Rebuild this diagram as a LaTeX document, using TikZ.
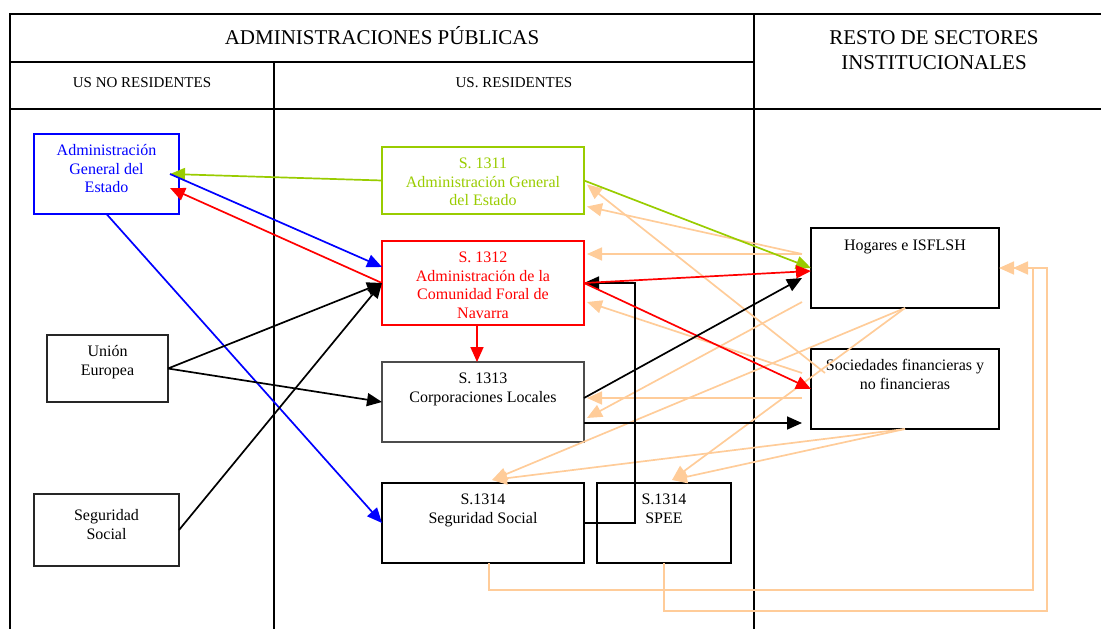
\documentclass[tikz,border=0pt]{standalone}
\usepackage{fontspec}
\setmainfont{Liberation Serif}
\usetikzlibrary{arrows.meta}
\tikzset{>={Triangle[length=15pt,width=13pt]}}
\definecolor{verde}{RGB}{153,204,0}
\definecolor{melocoton}{RGB}{255,204,153}
\tikzset{sector/.style = {shape=rectangle, draw, line width=1.8pt,
inner sep=0pt, outer sep=0pt, font=\fontsize{16}{18.5}\selectfont}}
\tikzset{flujo/.style = {line width=1.7pt, ->}}
\tikzset{trazo/.style = {line width=1.8pt}}
\newcommand{\caja}[4]{\parbox[c][#2][t]{#1}{\centering\rule{0pt}{#3}#4}}

\begin{document}
\begin{tikzpicture}[x=1pt,y=-1pt]
                \useasboundingbox (0,0) rectangle (1101,629);

                % cuadro
                \draw[trazo] (10,629) -- (10,14) -- (1101,14);
                \draw[trazo] (10,62) -- (754,62);
                \draw[trazo] (10,109) -- (1101,109);
                \draw[trazo] (274,62) -- (274,629);
                \draw[trazo] (754,14) -- (754,629);

                \node[anchor=base, font=\fontsize{21}{25}\selectfont] (tadm) at (382,44) {ADMINISTRACIONES PÚBLICAS};
                \node[anchor=north, align=center, inner sep=0pt, font=\fontsize{21}{25}\selectfont] (tresto) at (934,30) {RESTO DE SECTORES\\INSTITUCIONALES};
                \node[anchor=base, font=\fontsize{15}{18}\selectfont] (tnores) at (142,87) {US NO RESIDENTES};
                \node[anchor=base, font=\fontsize{15}{18}\selectfont] (tres) at (514,87) {US. RESIDENTES};

                % sectores
                \node[sector, draw=blue, text=blue] (age) at (106.5,174) {\caja{145pt}{80pt}{21.5pt}{Administración\\General del\\Estado}};
                \node[sector, draw=black!85] (ue) at (107.5,368.5) {\caja{121pt}{67pt}{21.5pt}{Unión\\Europea}};
                \node[sector, draw=black!85] (ssext) at (106.5,530) {\caja{145pt}{72pt}{26.5pt}{Seguridad\\Social}};

                \node[sector, draw=verde, text=verde] (s1311) at (483,180.5) {\caja{202pt}{67pt}{21.5pt}{S. 1311\\Administración General\\del Estado}};
                \node[sector, draw=red, text=red] (s1312) at (483,283) {\caja{202pt}{84pt}{21.5pt}{S. 1312\\Administración de la\\Comunidad Foral de\\Navarra}};
                \node[sector, draw=black!70] (s1313) at (483,402) {\caja{202pt}{80pt}{21.5pt}{S. 1313\\Corporaciones Locales}};
                \node[sector] (s1314) at (483,523) {\caja{202pt}{80pt}{21.5pt}{S.1314\\Seguridad Social}};
                \node[sector] (spee) at (664,523) {\caja{134pt}{80pt}{21.5pt}{S.1314\\SPEE}};

                \node[sector] (hog) at (905,268) {\caja{188pt}{80pt}{22.5pt}{Hogares e ISFLSH}};
                \node[sector] (soc) at (905,389) {\caja{188pt}{80pt}{21.5pt}{Sociedades financieras y\\no financieras}};

                \coordinate (r1) at (1033,590);
                \coordinate (r2) at (1047,611);

                % flujos del resto de sectores
                \draw[flujo, melocoton] ([xshift=-9pt,yshift=14pt]hog.west) to ([xshift=3pt,yshift=-26pt]s1311.east);
                \draw[flujo, melocoton] ([xshift=-9pt,yshift=14pt]hog.west) to ([xshift=3pt,yshift=29pt]s1312.east);
                \draw[flujo, melocoton] ([xshift=14pt,yshift=-24pt]soc.north west) to ([xshift=3pt,yshift=-4pt]s1311.east);
                \draw[flujo, melocoton] ([xshift=-9pt,yshift=16pt]soc.west) to ([xshift=3pt,yshift=-19pt]s1312.east);
                \draw[flujo, melocoton] ([xshift=-9pt,yshift=-9pt]soc.west) to ([xshift=3pt,yshift=4pt]s1313.east);
                \draw[flujo, melocoton] ([xshift=-9pt,yshift=-34pt]hog.west) to ([xshift=3pt,yshift=-16pt]s1313.east);
                \draw[flujo, melocoton] (hog.south) to ([xshift=9pt,yshift=3pt]s1314.north);
                \draw[flujo, melocoton] (hog.south) to ([xshift=8pt,yshift=3pt]spee.north);
                \draw[flujo, melocoton] (soc.south) to ([xshift=9pt,yshift=3pt]s1314.north);
                \draw[flujo, melocoton] (soc.south) to ([xshift=8pt,yshift=3pt]spee.north);
                \draw[flujo, melocoton] ([xshift=6pt]s1314.south) |- (r1) |- (hog.east);
                \draw[flujo, melocoton] (spee.south) |- (r2) |- ([xshift=14pt]hog.east);

                % flujos de las administraciones
                \draw[flujo, verde] (s1311.west) to ([xshift=-9pt]age.east);
                \draw[flujo, red] (s1312.west) to ([xshift=-9pt,yshift=-14pt]age.east);
                \draw[flujo, blue] ([xshift=-9pt]age.east) to ([yshift=16pt]s1312.west);
                \draw[flujo, blue] (age.south) to (s1314.west);
                \draw[flujo] (ue.east) to (s1312.west);
                \draw[flujo] (ue.east) to (s1313.west);
                \draw[flujo] (ssext.east) to (s1312.west);
                \draw[flujo, red] ([xshift=-6pt]s1312.south) to ([xshift=-6pt]s1313.north);
                \draw[flujo] (s1314.east) -| ([xshift=51pt]s1312.east) -- (s1312.east);
                \draw[flujo, verde] (s1311.east) to (hog.west);
                \draw[flujo, red] (s1312.east) to ([yshift=-3pt]hog.west);
                \draw[flujo, red] (s1312.east) to (soc.west);
                \draw[flujo] ([yshift=4pt]s1313.east) to ([xshift=-9pt,yshift=-10pt]hog.west);
                \draw[flujo] ([yshift=-21pt]s1313.east) to ([xshift=-9pt,yshift=-34pt]soc.west);
            \end{tikzpicture}
\end{document}
